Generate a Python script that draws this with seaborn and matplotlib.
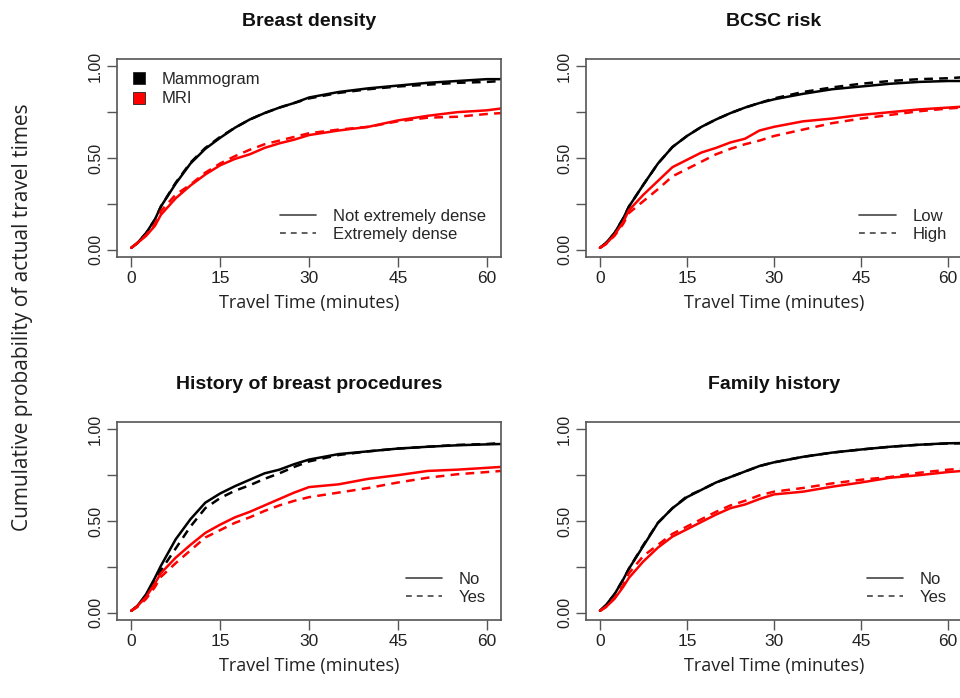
import matplotlib
matplotlib.use("Agg")
import matplotlib.pyplot as plt
from matplotlib.lines import Line2D
import seaborn as sns
import pandas as pd

sns.set_theme(style="white")
plt.rcParams["font.family"] = ["Liberation Sans", "DejaVu Sans"]

# time grid (minutes)
minutes = [0, 1, 2.5, 4, 5, 7.5, 10, 12.5, 15, 17.5, 20, 22.5, 25, 27.5, 30,
           35, 40, 45, 50, 55, 60, 62.4]

# Breast density
dens_mammo_not = [0.01, 0.035, 0.09, 0.165, 0.235, 0.36, 0.47, 0.55, 0.61, 0.665, 0.71,
                  0.745, 0.775, 0.80, 0.83, 0.86, 0.88, 0.895, 0.91, 0.92, 0.93, 0.93]
dens_mammo_ext = [0.01, 0.035, 0.09, 0.165, 0.235, 0.365, 0.475, 0.555, 0.615, 0.665, 0.71,
                  0.745, 0.775, 0.80, 0.825, 0.855, 0.875, 0.89, 0.90, 0.91, 0.915, 0.92]
dens_mri_not = [0.01, 0.035, 0.075, 0.13, 0.19, 0.28, 0.35, 0.41, 0.46, 0.495, 0.52,
                0.555, 0.58, 0.60, 0.625, 0.65, 0.67, 0.705, 0.73, 0.75, 0.76, 0.77]
dens_mri_ext = [0.01, 0.035, 0.08, 0.14, 0.21, 0.30, 0.355, 0.42, 0.47, 0.51, 0.545,
                0.575, 0.595, 0.615, 0.635, 0.655, 0.67, 0.70, 0.72, 0.725, 0.74, 0.745]

# BCSC risk
bcsc_mammo_low = [0.01, 0.035, 0.09, 0.17, 0.235, 0.355, 0.47, 0.56, 0.62, 0.67, 0.71,
                  0.745, 0.775, 0.80, 0.82, 0.85, 0.875, 0.89, 0.905, 0.915, 0.92, 0.92]
bcsc_mammo_high = [0.01, 0.035, 0.09, 0.17, 0.235, 0.355, 0.47, 0.56, 0.62, 0.67, 0.71,
                   0.745, 0.775, 0.80, 0.825, 0.86, 0.885, 0.905, 0.92, 0.93, 0.935, 0.94]
bcsc_mri_low = [0.01, 0.03, 0.08, 0.15, 0.215, 0.30, 0.375, 0.45, 0.49, 0.53, 0.555,
                0.585, 0.605, 0.65, 0.67, 0.70, 0.715, 0.735, 0.75, 0.765, 0.775, 0.78]
bcsc_mri_high = [0.01, 0.03, 0.075, 0.14, 0.20, 0.265, 0.33, 0.40, 0.44, 0.48, 0.52,
                 0.55, 0.575, 0.595, 0.62, 0.655, 0.69, 0.715, 0.735, 0.755, 0.77, 0.775]

# History of breast procedures
hist_mammo_no = [0.01, 0.035, 0.10, 0.19, 0.255, 0.40, 0.51, 0.60, 0.65, 0.69, 0.725,
                 0.76, 0.78, 0.81, 0.835, 0.865, 0.88, 0.895, 0.905, 0.913, 0.918, 0.92]
hist_mammo_yes = [0.01, 0.035, 0.09, 0.17, 0.23, 0.35, 0.47, 0.57, 0.625, 0.665, 0.695,
                  0.73, 0.76, 0.795, 0.825, 0.86, 0.88, 0.895, 0.905, 0.915, 0.92, 0.925]
hist_mri_no = [0.01, 0.035, 0.085, 0.16, 0.215, 0.30, 0.37, 0.435, 0.48, 0.52, 0.55,
               0.585, 0.62, 0.655, 0.685, 0.70, 0.73, 0.75, 0.773, 0.78, 0.79, 0.795]
hist_mri_yes = [0.01, 0.03, 0.075, 0.14, 0.195, 0.27, 0.34, 0.41, 0.45, 0.49, 0.52,
                0.555, 0.585, 0.61, 0.63, 0.655, 0.68, 0.71, 0.736, 0.755, 0.767, 0.773]

# Family history
fam_mammo_no = [0.01, 0.04, 0.10, 0.18, 0.24, 0.365, 0.49, 0.57, 0.63, 0.67, 0.71,
                0.74, 0.77, 0.80, 0.82, 0.85, 0.873, 0.89, 0.905, 0.916, 0.924, 0.925]
fam_mammo_yes = [0.01, 0.04, 0.10, 0.18, 0.24, 0.37, 0.49, 0.57, 0.635, 0.67, 0.71,
                 0.74, 0.77, 0.80, 0.82, 0.85, 0.873, 0.89, 0.905, 0.916, 0.923, 0.924]
fam_mri_no = [0.01, 0.03, 0.075, 0.14, 0.19, 0.28, 0.355, 0.415, 0.455, 0.495, 0.535,
              0.57, 0.59, 0.62, 0.645, 0.66, 0.687, 0.71, 0.736, 0.75, 0.767, 0.773]
fam_mri_yes = [0.01, 0.03, 0.08, 0.15, 0.215, 0.31, 0.37, 0.43, 0.47, 0.51, 0.55,
               0.585, 0.61, 0.64, 0.66, 0.68, 0.705, 0.725, 0.74, 0.763, 0.78, 0.785]

panels = [
    ("Breast density", ["Not extremely dense", "Extremely dense"],
     [dens_mammo_not, dens_mammo_ext, dens_mri_not, dens_mri_ext]),
    ("BCSC risk", ["Low", "High"],
     [bcsc_mammo_low, bcsc_mammo_high, bcsc_mri_low, bcsc_mri_high]),
    ("History of breast procedures", ["No", "Yes"],
     [hist_mammo_no, hist_mammo_yes, hist_mri_no, hist_mri_yes]),
    ("Family history", ["No", "Yes"],
     [fam_mammo_no, fam_mammo_yes, fam_mri_no, fam_mri_yes]),
]

W, H = 960, 698
boxes = [(117, 59, 384, 198), (586, 59, 376, 198),
         (117, 422, 384, 198), (586, 422, 376, 198)]

frame_col = "#555555"
fig = plt.figure(figsize=(W / 100, H / 100), dpi=100)

for (title, groups, series), (x0, y0, w, h) in zip(panels, boxes):
    ax = fig.add_axes([x0 / W, 1 - (y0 + h) / H, w / W, h / H])
    rows = []
    for (mod, grp), vals in zip([("Mammogram", groups[0]), ("Mammogram", groups[1]),
                                 ("MRI", groups[0]), ("MRI", groups[1])], series):
        for t, v in zip(minutes, vals):
            rows.append({"minutes": t, "prob": v, "modality": mod, "group": grp})
    df = pd.DataFrame(rows)
    sns.lineplot(data=df, x="minutes", y="prob", hue="modality", style="group",
                 palette={"Mammogram": "black", "MRI": "red"},
                 dashes={groups[0]: "", groups[1]: (3.5, 2.5)},
                 hue_order=["Mammogram", "MRI"], style_order=groups,
                 linewidth=1.8, legend=False, ax=ax, estimator=None, sort=False)
    ax.set_xlim(-2.4, 62.4)
    ax.set_ylim(-0.04, 1.04)
    ax.set_xticks([0, 15, 30, 45, 60])
    ax.set_yticks([0, 0.25, 0.5, 0.75, 1.0])
    ax.set_yticklabels(["0.00", "", "0.50", "", "1.00"], rotation=90, va="center")
    ax.tick_params(axis="x", labelsize=12.5, length=7, width=1, color=frame_col,
                   direction="out", bottom=True, pad=3, labelcolor="#222222")
    ax.tick_params(axis="y", labelsize=11.5, length=7, width=1, color=frame_col,
                   direction="out", left=True, pad=3, labelcolor="#222222")
    for s in ax.spines.values():
        s.set_color(frame_col)
        s.set_linewidth(1.2)
    ax.set_title(title, fontsize=14, fontweight="bold", pad=24, color="#111111")
    ax.set_xlabel("Travel Time (minutes)", fontsize=13, family=["Open Sans", "DejaVu Sans"],
                  labelpad=6, color="#222222")
    ax.set_ylabel("")

    style_handles = [Line2D([], [], color="#444444", lw=1.2, ls="-"),
                     Line2D([], [], color="#444444", lw=1.2, ls=(0, (3.5, 3)))]
    leg = ax.legend(style_handles, groups, loc="lower right", frameon=False,
                    fontsize=12, handlelength=2.2, handletextpad=1.0,
                    labelspacing=0.2, borderaxespad=0.5)
    if title == "Breast density":
        ax.add_artist(leg)
        color_handles = [Line2D([], [], color="none", marker="s", markersize=9,
                                markerfacecolor=c, markeredgecolor="#222222",
                                markeredgewidth=0.6) for c in ["black", "red"]]
        ax.legend(color_handles, ["Mammogram", "MRI"], loc="upper left",
                  frameon=False, fontsize=12, handlelength=1.0, handletextpad=0.9,
                  labelspacing=0.25, borderaxespad=0.4)

fig.text(0.023, 0.546, "Cumulative probability of actual travel times", rotation=90,
         ha="center", va="center", fontsize=15, family=["Open Sans", "DejaVu Sans"],
         color="#222222")

fig.savefig("out.png", dpi=100)
